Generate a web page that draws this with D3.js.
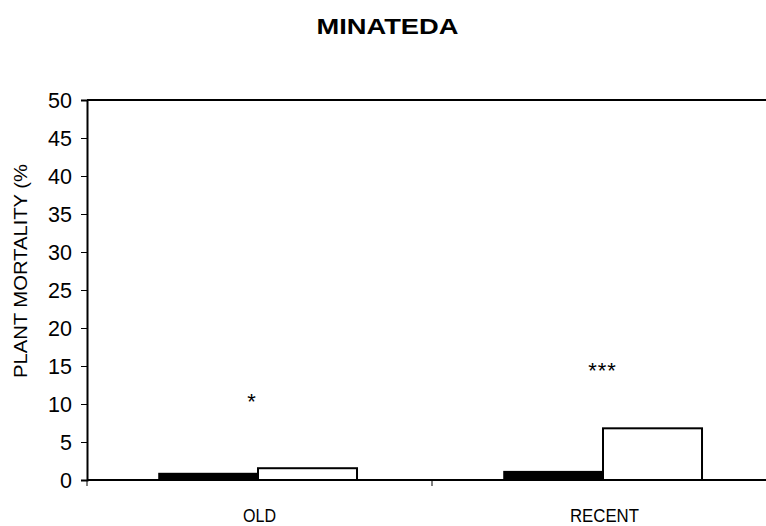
<!DOCTYPE html>
<html><head><meta charset="utf-8">
<script src="https://cdn.jsdelivr.net/npm/d3@7"></script>
<style>body{margin:0;background:#fff}svg{display:block}text{font-family:"Liberation Sans",Arial,sans-serif}</style>
</head><body>
<svg id="c" width="766" height="526"></svg>
<script>
const title = "MINATEDA";
const categories = ["OLD", "RECENT"];
const seriesNames = ["A", "B"];
const seriesA = [0.85, 1.1];
const seriesB = [1.55, 6.8];
const stars = ["*", "***"];
const starValues = [9.4, 13.4];
const yTicks = [0,5,10,15,20,25,30,35,40,45,50];
const yLabel = "PLANT MORTALITY (%";

(function(){
const svg = d3.select("#c");
const mLeft = 87, mTop = 100, mBottom = 480, mRight = 777;
const x = d3.scaleBand().domain(categories).range([mLeft, mRight]).paddingInner(0).paddingOuter(0);
const y = d3.scaleLinear().domain([0, 50]).range([mBottom, mTop]);
const bw = x.bandwidth() * 0.287;

svg.append("line").attr("x1", mLeft).attr("x2", 766).attr("y1", y(50)).attr("y2", y(50))
  .attr("stroke", "#000").attr("stroke-width", 2);

const data = categories.map((c, i) => ({c, a: seriesA[i], b: seriesB[i]}));
const g = svg.append("g");
data.forEach(d => {
  const cx = x(d.c) + x.bandwidth() / 2 - 1.5;
  g.append("rect").attr("x", cx - bw).attr("width", bw)
    .attr("y", y(d.a)).attr("height", y(0) - y(d.a))
    .attr("fill", "#000").attr("stroke", "#000").attr("stroke-width", 1.5);
  g.append("rect").attr("x", cx).attr("width", bw)
    .attr("y", y(d.b)).attr("height", y(0) - y(d.b))
    .attr("fill", "#fff").attr("stroke", "#000").attr("stroke-width", 2);
});

const ya = svg.append("g").attr("transform", `translate(${mLeft},0)`)
  .call(d3.axisLeft(y).tickValues(yTicks).tickSize(6).tickPadding(9));
ya.select(".domain").attr("stroke", "#000").attr("stroke-width", 2);
ya.selectAll(".tick line").attr("stroke", "#000").attr("stroke-width", 1);
ya.selectAll("text").attr("font-size", 21.5).attr("fill", "#000").attr("dy", "0.36em");

const xa = svg.append("g").attr("transform", `translate(0,${mBottom})`)
  .call(d3.axisBottom(x).tickSize(0).tickPadding(0));
xa.select(".domain").remove();
xa.selectAll("text").attr("font-size", 18).attr("fill", "#000").attr("dy", null).attr("y", 42)
  .attr("textLength", d => d === "OLD" ? 33 : 69).attr("lengthAdjust", "spacingAndGlyphs");
svg.append("line").attr("x1", mLeft).attr("x2", 766).attr("y1", mBottom).attr("y2", mBottom)
  .attr("stroke", "#000").attr("stroke-width", 2);
[mLeft, mLeft + x.bandwidth(), mLeft + 2 * x.bandwidth()].forEach(t => {
  svg.append("line").attr("x1", t).attr("x2", t).attr("y1", mBottom).attr("y2", mBottom + 6)
    .attr("stroke", "#000").attr("stroke-width", 1);
});

data.forEach((d, i) => {
  svg.append("text").attr("x", x(d.c) + x.bandwidth() / 2 + (i === 0 ? -8 : -2)).attr("y", y(starValues[i]))
    .attr("text-anchor", "middle").attr("font-size", 22).attr("letter-spacing", i === 0 ? 0 : 1)
    .attr("fill", "#000").text(stars[i]);
});

svg.append("text").attr("x", 316.5).attr("y", 34)
  .attr("font-size", 21.5).attr("font-weight", "bold").attr("fill", "#000")
  .attr("textLength", 142).attr("lengthAdjust", "spacingAndGlyphs").text(title);

svg.append("text").attr("transform", `translate(27,271) rotate(-90)`)
  .attr("text-anchor", "middle").attr("font-size", 19).attr("fill", "#000")
  .attr("textLength", 214).attr("lengthAdjust", "spacingAndGlyphs").text(yLabel);
})();
</script>
</body></html>
